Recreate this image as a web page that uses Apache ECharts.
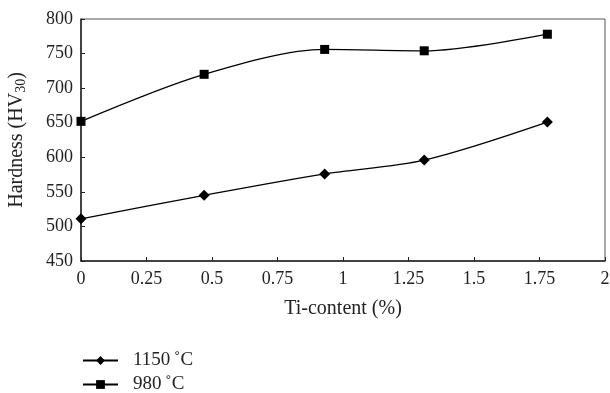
<!DOCTYPE html>
<html><head><meta charset="utf-8">
<script src="https://cdn.jsdelivr.net/npm/echarts@6/dist/echarts.min.js"></script>
<style>html,body{margin:0;padding:0;background:#fff}#c{width:610px;height:393px}</style>
</head><body><div id="c"></div>
<script>
const tiContent = [0, 0.47, 0.93, 1.31, 1.78];
const hv1150 = [511, 545, 576, 596, 651];
const hv980 = [652, 720, 756, 754, 778];
const seriesNames = ['1150\u2009\u02daC', '980\u2009\u02daC'];

const font = 'Liberation Serif, Times New Roman, serif';
const chart = echarts.init(document.getElementById('c'));
chart.setOption({
  animation: false,
  backgroundColor: '#fff',
  grid: {left: 81, right: 5, top: 19, bottom: 132, show: true, borderColor: '#555', borderWidth: 1, containLabel: false, outerBoundsMode: 'none'},
  legend: {
    orient: 'vertical', left: 82, top: 351, padding: 0, itemGap: 5, itemWidth: 35, itemHeight: 11,
    height: 60,
    textStyle: {fontFamily: font, fontSize: 19, color: '#222', lineHeight: 19, padding: [0, 0, 0, 10]},
    data: seriesNames
  },
  xAxis: {
    type: 'value', min: 0, max: 2, interval: 0.25,
    name: 'Ti-content (%)', nameLocation: 'middle', nameGap: 38,
    nameTextStyle: {fontFamily: font, fontSize: 20, color: '#222'},
    axisLine: {lineStyle: {color: '#222', width: 1.5}},
    axisTick: {inside: true, length: 4, lineStyle: {color: '#222'}},
    axisLabel: {fontFamily: font, fontSize: 18, color: '#222', margin: 9},
    splitLine: {show: false}
  },
  yAxis: {
    type: 'value', min: 450, max: 800, interval: 50,
    name: '{a|Hardness (HV}{s|30}{a|)}', nameLocation: 'middle', nameGap: 53,
    nameTextStyle: {rich: {a: {fontFamily: font, fontSize: 20, color: '#222'}, s: {fontFamily: font, fontSize: 14, color: '#222', verticalAlign: 'bottom', padding: [8, 0, 0, 0]}}},
    axisLine: {lineStyle: {color: '#222', width: 1.5}},
    axisTick: {inside: true, length: 4, lineStyle: {color: '#222'}},
    axisLabel: {fontFamily: font, fontSize: 18, color: '#222', margin: 8},
    splitLine: {show: false}
  },
  series: [
    {name: seriesNames[0], type: 'line', smooth: 0.3, symbol: 'diamond', symbolSize: 11,
     data: tiContent.map((x, i) => [x, hv1150[i]]),
     lineStyle: {color: '#000', width: 1.3}, itemStyle: {color: '#000'}},
    {name: seriesNames[1], type: 'line', smooth: 0.3, symbol: 'rect', symbolSize: 9,
     data: tiContent.map((x, i) => [x, hv980[i]]),
     lineStyle: {color: '#000', width: 1.3}, itemStyle: {color: '#000'}}
  ]
});
</script></body></html>
